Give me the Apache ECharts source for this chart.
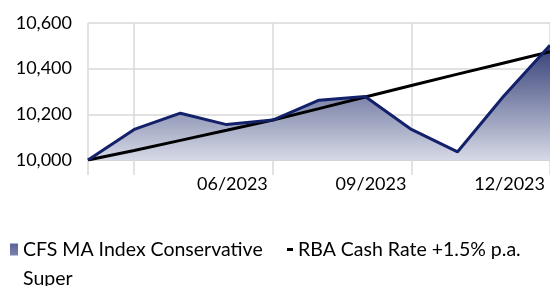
<!DOCTYPE html>
<html>
<head>
<meta charset="utf-8">
<script src="https://cdn.jsdelivr.net/npm/echarts@6/dist/echarts.min.js"></script>
<style>
  html, body { margin: 0; padding: 0; background: #fff; }
  #chart { width: 550px; height: 286px; }
</style>
</head>
<body>
<div id="chart"></div>
<script>
// monthly points, 02/2023 .. 12/2023
const months = ["02/2023", "03/2023", "04/2023", "05/2023", "06/2023", "07/2023",
  "08/2023", "09/2023", "10/2023", "11/2023", "12/2023"];
const cfsValues = [10000, 10134, 10205, 10155, 10175, 10262, 10278, 10134, 10036, 10280, 10503];
const rbaValues = [10000, 10042, 10086, 10130, 10175, 10225, 10276, 10326, 10376, 10425, 10474];
const yTicks = [10000, 10200, 10400, 10600];
const tickIdx = [0, 1, 4, 7, 10];   // gridlines / ticks
const labelIdx = [4, 7, 10];        // labelled months

const cfsName = "CFS MA Index Conservative Super";
const rbaName = "RBA Cash Rate +1.5% p.a.";
const font = "Lato";

const areaFill = new echarts.graphic.LinearGradient(0, 0, 0, 1, [
  { offset: 0, color: "#333e76" },
  { offset: 1, color: "#d6d9e6" },
]);
const legendFill = new echarts.graphic.LinearGradient(0, 0, 0, 1, [
  { offset: 0, color: "#5a6398" },
  { offset: 1, color: "#cdd0e2" },
]);

const chart = echarts.init(document.getElementById("chart"));

const option = {
  animation: false,
  grid: { left: 88, right: 0, top: 23, bottom: 126 },
  legend: [
    {
      left: 10,
      top: 235,
      padding: 0,
      itemWidth: 8,
      itemHeight: 41,
      // square sits on the first text line, the extra M stretches the box
      icon: "path://M0,0L8,0L8,12L0,12ZM0,41",
      data: [{ name: cfsName, itemStyle: { color: legendFill } }],
      textStyle: {
        fontFamily: font,
        fontSize: 19.5,
        color: "#000",
        width: 250,
        overflow: "break",
        lineHeight: 29,
      },
    },
    {
      left: 287,
      top: 235,
      padding: 0,
      itemWidth: 6,
      itemHeight: 3,
      icon: "rect",
      data: [{ name: rbaName, itemStyle: { color: "#000" } }],
      textStyle: { fontFamily: font, fontSize: 19.5, color: "#000", lineHeight: 29 },
    },
  ],
  xAxis: {
    type: "category",
    data: months,
    boundaryGap: false,
    axisLine: { lineStyle: { color: "#d0d0d0", width: 1.5 } },
    axisTick: {
      length: 15,
      interval: (i) => tickIdx.includes(i),
      lineStyle: { color: "#d9d9d9", width: 1.5 },
    },
    splitLine: {
      show: true,
      interval: (i) => tickIdx.includes(i),
      lineStyle: { color: "#d9d9d9", width: 1.5 },
    },
    axisLabel: {
      interval: (i) => labelIdx.includes(i),
      align: "right",
      margin: 15,
      padding: [0, 5, 0, 0],
      fontFamily: font,
      fontSize: 18,
      color: "#000",
    },
  },
  yAxis: {
    type: "value",
    min: yTicks[0],
    max: yTicks[yTicks.length - 1],
    interval: 200,
    axisLine: { show: false },
    axisTick: { show: false },
    splitLine: { lineStyle: { color: "#d9d9d9", width: 1.5 } },
    axisLabel: {
      margin: 16,
      fontFamily: font,
      fontSize: 18,
      color: "#000",
      formatter: (v) => v.toLocaleString("en-US"),
    },
  },
  series: [
    {
      // filled area only, line drawn separately on top
      name: cfsName,
      type: "line",
      data: cfsValues,
      symbol: "none",
      z: 1,
      itemStyle: { color: legendFill },
      lineStyle: { width: 0 },
      areaStyle: { color: areaFill, opacity: 1 },
    },
    {
      name: rbaName,
      type: "line",
      data: rbaValues,
      symbol: "none",
      z: 2,
      itemStyle: { color: "#000" },
      lineStyle: { color: "#000", width: 3 },
    },
    {
      name: cfsName,
      type: "line",
      data: cfsValues,
      symbol: "none",
      z: 3,
      itemStyle: { color: legendFill },
      lineStyle: { color: "#13216a", width: 3 },
    },
  ],
};

chart.setOption(option);
window.addEventListener("resize", () => chart.resize());
</script>
</body>
</html>
